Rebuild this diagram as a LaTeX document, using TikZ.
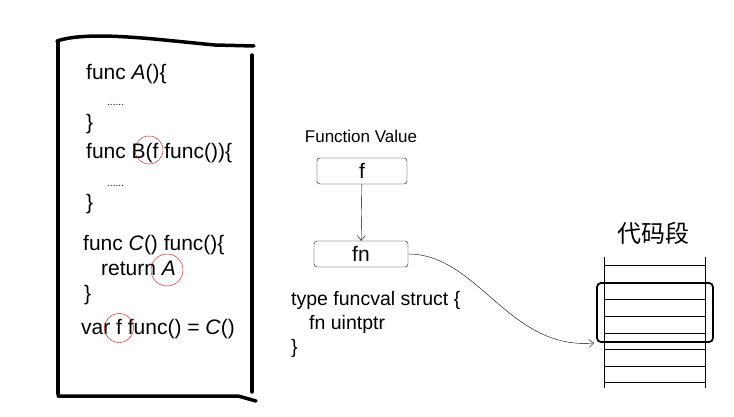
\documentclass[tikz,border=0pt]{standalone}
\usepackage{fontspec}
\setmainfont{Liberation Sans}
\newfontfamily\cjk{Noto Sans CJK SC}
\usetikzlibrary{arrows.meta, positioning}

\begin{document}
\begin{tikzpicture}[
    x=1pt, y=-1pt,
    code/.style={anchor=base west, inner sep=0pt, font=\fontsize{21}{24}\selectfont},
    gocode/.style={anchor=base west, inner sep=0pt, font=\fontsize{19.5}{22}\selectfont},
    dots/.style={anchor=base west, inner sep=0pt, font=\fontsize{10}{12}\selectfont},
    valbox/.style={rectangle, draw, rounded corners=3pt, minimum width=90pt, minimum height=26pt, inner sep=0pt, font=\fontsize{21}{22}\selectfont},
    redring/.style={circle, draw=red!85!black, thin, inner sep=0pt},
    border/.style={line width=3.5pt, line cap=round, line join=round},
    arrow/.style={-{Straight Barb[length=5pt, width=8pt]}, thin}
]
\useasboundingbox (0,0) rectangle (734,417);

% Code panel (hand drawn)
\draw[border] (58,42) -- (58,394);
\draw[border] (57,41) .. controls (90,30) and (160,40) .. (215,45) -- (254,46);
\draw[border] (252,55) -- (252,392);
\draw[border] (58,396) -- (238,396) -- (256,401);

% Code lines
\node[code] (lineA)   at (86,80)  {func \textit{A}()\{};
\node[dots] (dotsA)   at (107,106) {......};
\node[code] (closeA)  at (86,130) {\}};
\node[code] (lineB)   at (86,159) {func B(f func())\{};
\node[dots] (dotsB)   at (107,186) {......};
\node[code] (closeB)  at (86,210) {\}};
\node[code] (lineC)   at (83,250) {func \textit{C}() func()\{};
\node[code] (retA)    at (101,275) {return \textit{A}};
\node[code] (closeC)  at (84,300) {\}};
\node[code] (lineVar) at (81,334) {var f func() = \textit{C}()};

% Red rings
\node[redring, minimum size=28pt] (ringB)   at (149,150) {};
\node[redring, minimum size=32pt] (ringA)   at (167,270) {};
\node[redring, minimum size=29pt] (ringVar) at (119,328) {};

% Function value
\node[font=\fontsize{17}{19}\selectfont] (title) at (361,136) {Function Value};
\node[valbox] (fbox)  at (362,171) {f};
\node[valbox, minimum width=94pt] (fnbox) at (361,254) {fn};

\node[gocode] (typeL) at (291,305) {type funcval struct \{};
\node[gocode] (fieldL) at (309,329) {fn uintptr};
\node[gocode] (closeT) at (291,353) {\}};

% Code segment
\node[font=\cjk\fontsize{24}{26}\selectfont] (segTitle) at (653,233) {代码段};
\draw (604,257) -- (604,388);
\draw (705,257) -- (705,388);
\foreach \y in {265,282,299,316,333,349,366,382}
    \draw (604,\y) -- (705,\y);
\node[draw, line width=1.8pt, rounded corners=4pt, minimum width=116pt, minimum height=59pt, inner sep=0pt] (slot) at (655,312.5) {};

% Edges
\draw[arrow] (fbox) -- (fnbox);
\draw[arrow] (fnbox.east) .. controls +(70,0) and +(-85,8) .. ([xshift=-2pt]slot.south west);

\end{tikzpicture}
\end{document}
